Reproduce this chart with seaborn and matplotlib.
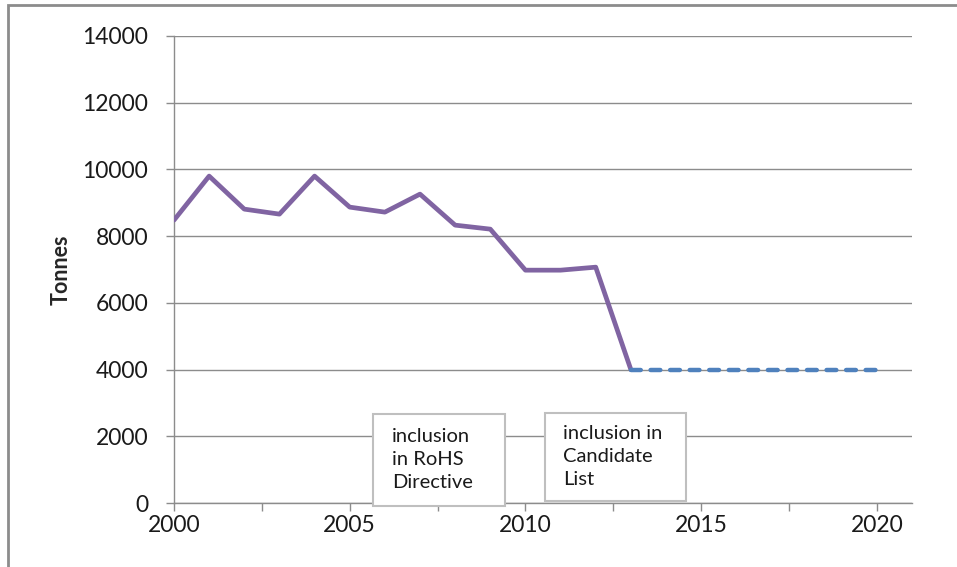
import numpy as np
import matplotlib.pyplot as plt
import seaborn as sns
import pandas as pd
from matplotlib.patches import Rectangle

years = [2000, 2001, 2002, 2003, 2004, 2005, 2006, 2007, 2008, 2009, 2010, 2011, 2012, 2013]
tonnes = [8480, 9800, 8810, 8660, 9800, 8870, 8720, 9260, 8330, 8210, 6980, 6980, 7070, 4000]
proj_years = [2013, 2014, 2015, 2016, 2017, 2018, 2019, 2020]
proj_tonnes = [4000, 4000, 4000, 4000, 4000, 4000, 4000, 4000]
box_labels = ['inclusion\nin RoHS\nDirective', 'inclusion in\nCandidate\nList']

sns.set_style('white')
plt.rcParams['font.family'] = ['Lato', 'DejaVu Sans']

fig = plt.figure(figsize=(9.57, 5.67), dpi=100)
ax = fig.add_axes([174/957, 1-503/567, (912-174)/957, (503-36)/567])

df = pd.DataFrame({'year': years, 'tonnes': tonnes})
dp = pd.DataFrame({'year': proj_years, 'tonnes': proj_tonnes})
sns.lineplot(data=df, x='year', y='tonnes', ax=ax, color='#8064A2', lw=3.4, zorder=3)
sns.lineplot(data=dp, x='year', y='tonnes', ax=ax, color='#4F81BD', lw=3.2,
             zorder=4, dashes=False, linestyle=(0, (2.2, 2.2)), solid_capstyle='round',
             dash_capstyle='round')

ax.set_xlim(2000, 2021)
ax.set_ylim(0, 14000)
ax.set_yticks(np.arange(0, 14001, 2000))
ax.set_xticks([2000, 2005, 2010, 2015, 2020])
ax.set_xticks(np.arange(2000, 2021, 2.5), minor=True)
ax.yaxis.grid(True, color='#8c8c8c', lw=1)
ax.set_axisbelow(True)
for s in ['top', 'right']:
    ax.spines[s].set_visible(False)
for s in ['left', 'bottom']:
    ax.spines[s].set_color('#8c8c8c')
    ax.spines[s].set_linewidth(1)
ax.tick_params(axis='both', which='both', direction='out', length=6, width=1,
               color='#8c8c8c', labelsize=16.5, labelcolor='#1a1a1a',
               bottom=True, left=True)
ax.tick_params(axis='y', which='minor', left=False)
ax.tick_params(axis='y', which='major', pad=12.5)
ax.tick_params(axis='x', which='major', pad=3)
ax.set_xlabel('')
ax.set_ylabel('Tonnes', fontsize=15.5, fontweight='bold', labelpad=8)

# annotation boxes
bx = [(373, 414, 132, 92, 392, 428), (545, 413, 141, 88, 563, 425)]
for (x0, y0, w, h, tx, ty), lab in zip(bx, box_labels):
    fig.patches.append(Rectangle((x0/957, 1-(y0+h)/567), w/957, h/567,
                                 transform=fig.transFigure, facecolor='white',
                                 edgecolor='#bfbfbf', lw=1.5, zorder=5))
    fig.text(tx/957, 1-ty/567, lab, ha='left', va='top', fontsize=14.5,
             color='#1a1a1a', linespacing=1.42, zorder=6)

# chart border
fig.patches.append(Rectangle((8/957, -0.05), 1.0, 1-5/567+0.05,
                             transform=fig.transFigure, fill=False,
                             edgecolor='#8c8c8c', lw=2))

fig.savefig('out.png', dpi=100)
